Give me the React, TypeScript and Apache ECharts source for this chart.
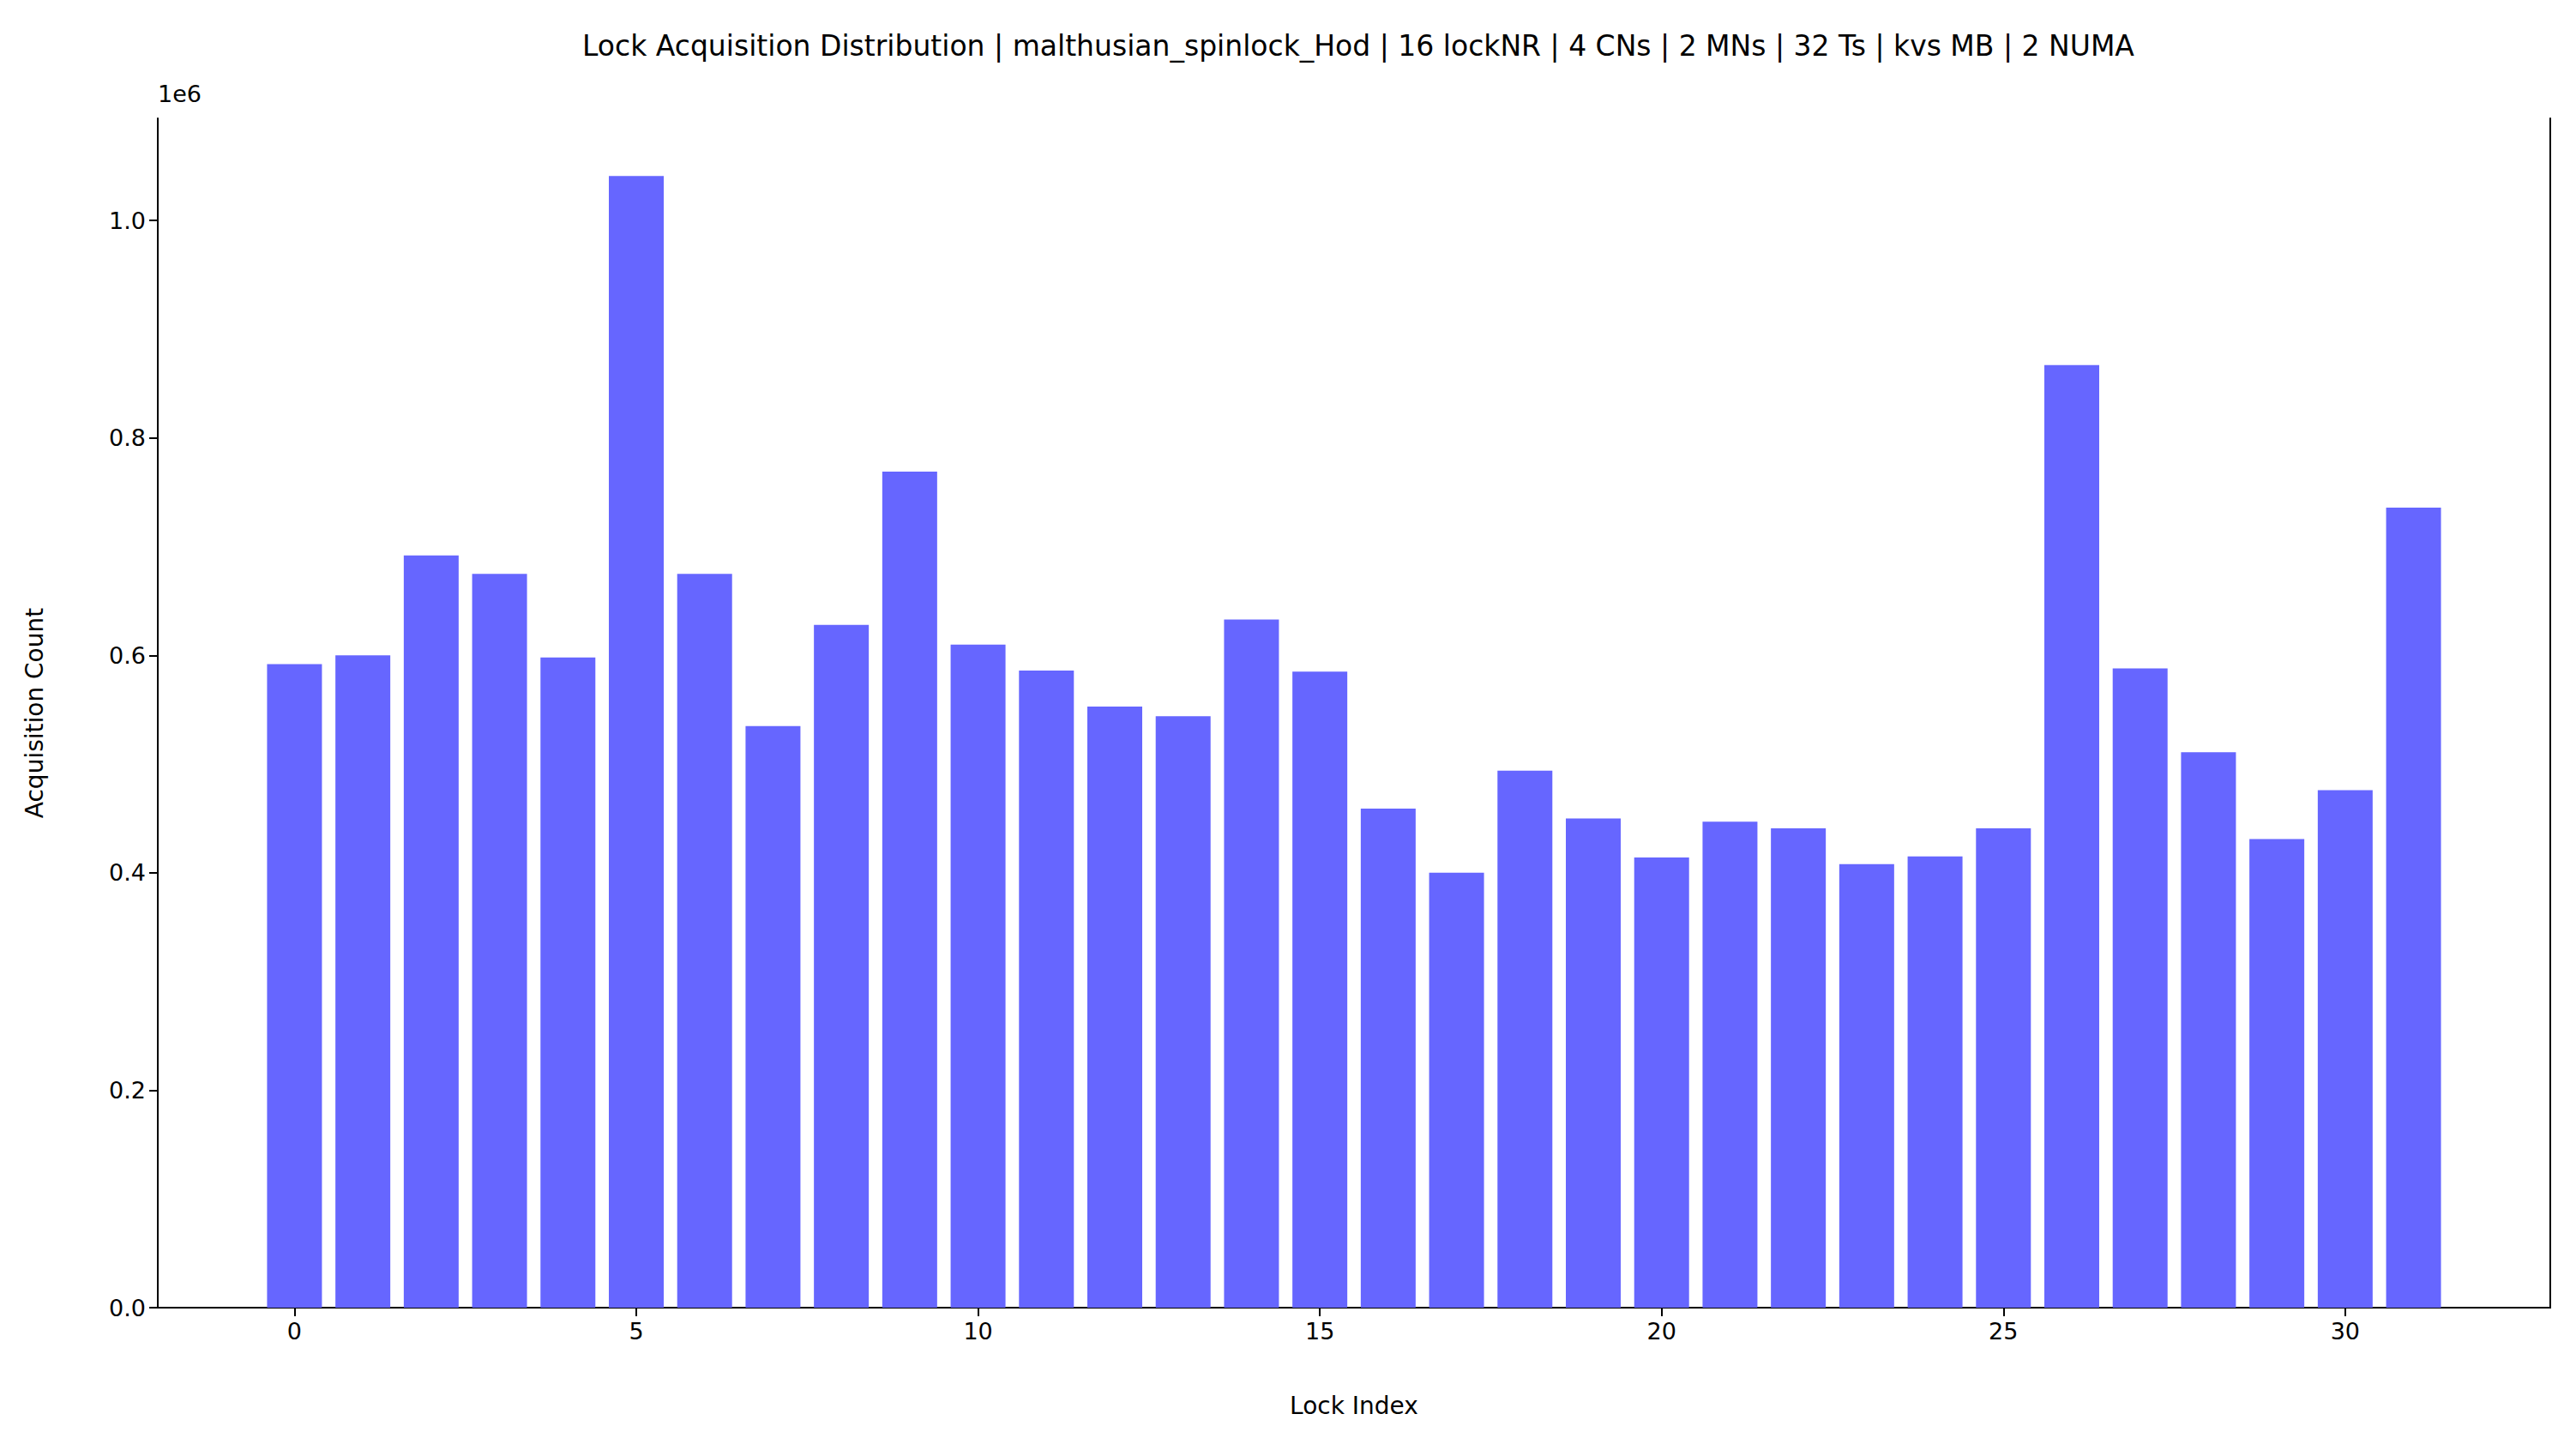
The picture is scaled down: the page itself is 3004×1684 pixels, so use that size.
import { useEffect, useRef } from 'react';
import * as echarts from 'echarts';

const lockIndex = Array.from({ length: 36 }, (_, i) => i - 2); // axis positions -2..33
const counts = [
  592000, 600000, 692000, 675000, 598000, 1041000, 675000, 535000, 628000, 769000,
  610000, 586000, 553000, 544000, 633000, 585000, 459000, 400000, 494000, 450000,
  414000, 447000, 441000, 408000, 415000, 441000, 867000, 588000, 511000, 431000,
  476000, 736000,
];
const yTicks = [0, 0.2, 0.4, 0.6, 0.8, 1.0];

const font = 'DejaVu Sans';

export default function App() {
  const el = useRef<HTMLDivElement>(null);

  useEffect(() => {
    if (!el.current) return;
    const chart = echarts.init(el.current, undefined, { renderer: 'svg' });
    const barData = lockIndex.map((x) => (x >= 0 && x < counts.length ? counts[x] : null));
    const axisLine = { show: true, lineStyle: { color: '#000', width: 2 } };
    chart.setOption({
      animation: false,
      backgroundColor: '#fff',
      textStyle: { fontFamily: font },
      title: {
        text: 'Lock Acquisition Distribution | malthusian_spinlock_Hod | 16 lockNR | 4 CNs | 2 MNs | 32 Ts | kvs MB | 2 NUMA',
        left: 1579,
        textAlign: 'center',
        top: 32,
        textStyle: { fontFamily: font, fontSize: 33, fontWeight: 'normal', color: '#000' },
      },
      graphic: [
        { type: 'text', left: 184, top: 96, style: { text: '1e6', font: `27px "${font}"`, fill: '#000' } },
      ],
      grid: { left: 184, right: 30, top: 138, bottom: 159 },
      xAxis: [
        {
          type: 'category',
          data: lockIndex.map(String),
          boundaryGap: false,
          name: 'Lock Index',
          nameLocation: 'middle',
          nameGap: 100,
          nameTextStyle: { fontSize: 28, color: '#000' },
          axisLine,
          axisTick: { show: true, length: 10, interval: (i: number) => lockIndex[i] % 5 === 0 && lockIndex[i] >= 0 && lockIndex[i] <= 30, lineStyle: { color: '#000', width: 2 } },
          axisLabel: { interval: (i: number) => lockIndex[i] % 5 === 0 && lockIndex[i] >= 0 && lockIndex[i] <= 30, fontSize: 27, color: '#000', margin: 14 },
          splitLine: { show: false },
        },
        { type: 'value', position: 'top', min: 0, max: 1, axisLine, axisTick: { show: false }, axisLabel: { show: false }, splitLine: { show: false } },
      ],
      yAxis: [
        {
          type: 'value',
          min: 0,
          max: 1094000,
          interval: 200000,
          name: 'Acquisition Count',
          nameLocation: 'middle',
          nameGap: 130,
          nameTextStyle: { fontSize: 28, color: '#000' },
          axisLine,
          axisTick: { show: true, length: 10, lineStyle: { color: '#000', width: 2 } },
          axisLabel: {
            fontSize: 27,
            color: '#000',
            margin: 14,
            showMaxLabel: false,
            formatter: (v: number) => (yTicks.some((t) => Math.abs(t * 1e6 - v) < 1) ? (v / 1e6).toFixed(1) : ''),
          },
          splitLine: { show: false },
        },
        { type: 'value', position: 'right', min: 0, max: 1, axisLine, axisTick: { show: false }, axisLabel: { show: false }, splitLine: { show: false } },
      ],
      series: [
        {
          type: 'bar',
          data: barData,
          barWidth: 64,
          itemStyle: { color: '#6666ff' },
        },
      ],
    });
    return () => chart.dispose();
  }, []);

  return <div ref={el} style={{ position: 'fixed', left: 0, top: 0, width: 3004, height: 1684 }} />;
}
